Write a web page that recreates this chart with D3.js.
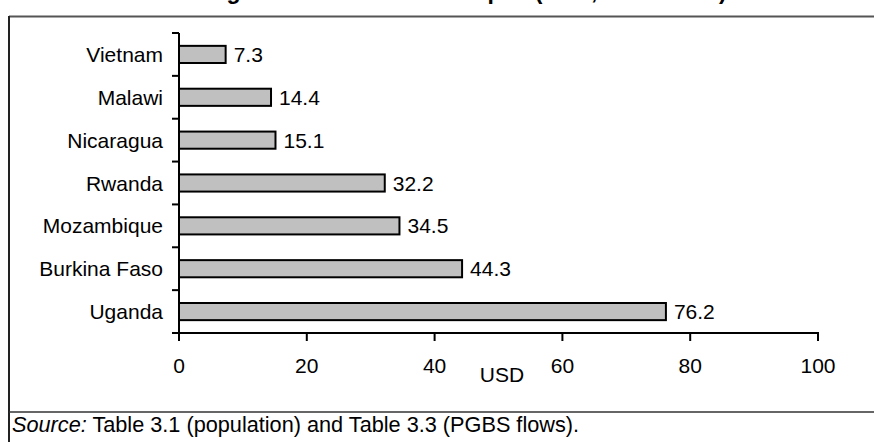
<!DOCTYPE html>
<html><head><meta charset="utf-8">
<script src="https://cdn.jsdelivr.net/npm/d3@7"></script>
<style>body{margin:0;background:#fff;}svg{display:block;font-family:"Liberation Sans",Arial,sans-serif;}</style>
</head><body>
<svg id="c" width="874" height="442"></svg>
<script>
const countries = ["Vietnam","Malawi","Nicaragua","Rwanda","Mozambique","Burkina Faso","Uganda"];
const values = [7.3,14.4,15.1,32.2,34.5,44.3,76.2];
const xTicks = [0,20,40,60,80,100];
const titleText = "Average Annual PGBS Per Capita (USD, 2000–2004)";
const axisTitle = "USD";

const svg = d3.select("#c");
// frame
svg.append("line").attr("x1",9).attr("x2",874).attr("y1",16.5).attr("y2",16.5).attr("stroke","#555").attr("stroke-width",2);
svg.append("line").attr("x1",9).attr("x2",9).attr("y1",16).attr("y2",442).attr("stroke","#222").attr("stroke-width",2);
svg.append("line").attr("x1",9).attr("x2",874).attr("y1",412).attr("y2",412).attr("stroke","#333").attr("stroke-width",1.5);

svg.append("text").attr("x",445).attr("y",-1.5).attr("text-anchor","middle")
  .attr("font-size",23).attr("font-weight","bold").text(titleText);

const FS = 21;
const x = d3.scaleLinear().domain([0,100]).range([179,818]);
const y = d3.scaleBand().domain(countries).range([33,333]).paddingInner(0.6).paddingOuter(0.3);

// bars
svg.selectAll("rect.bar").data(countries).join("rect")
  .attr("x",x(0)).attr("y",d=>y(d)).attr("width",(d,i)=>x(values[i])-x(0)).attr("height",y.bandwidth())
  .attr("fill","#c0c0c0").attr("stroke","#000").attr("stroke-width",2);

// value labels
svg.selectAll("text.val").data(countries).join("text")
  .attr("x",(d,i)=>x(values[i])+8).attr("y",d=>y(d)+y.bandwidth()/2).attr("dy","0.36em")
  .attr("font-size",FS).text((d,i)=>values[i].toFixed(1));

// y axis
const band = (333-33)/countries.length;
const yTickPos = d3.range(countries.length+1).map(i=>33+i*band);
svg.append("line").attr("x1",x(0)).attr("x2",x(0)).attr("y1",33).attr("y2",334).attr("stroke","#000").attr("stroke-width",2);
svg.selectAll("line.yt").data(yTickPos).join("line")
  .attr("x1",x(0)-7).attr("x2",x(0)).attr("y1",d=>d).attr("y2",d=>d).attr("stroke","#000").attr("stroke-width",2);
svg.selectAll("text.cat").data(countries).join("text")
  .attr("x",163).attr("y",d=>y(d)+y.bandwidth()/2).attr("dy","0.36em").attr("text-anchor","end")
  .attr("font-size",FS).text(d=>d);

// x axis
svg.append("line").attr("x1",x(0)-7).attr("x2",x(100)+1).attr("y1",333).attr("y2",333).attr("stroke","#000").attr("stroke-width",2);
svg.selectAll("line.xt").data(xTicks).join("line")
  .attr("x1",d=>x(d)).attr("x2",d=>x(d)).attr("y1",333).attr("y2",341).attr("stroke","#000").attr("stroke-width",2);
svg.selectAll("text.xl").data(xTicks).join("text")
  .attr("x",d=>x(d)).attr("y",373).attr("text-anchor","middle").attr("font-size",FS).text(d=>d);
svg.append("text").attr("x",502).attr("y",382).attr("text-anchor","middle").attr("font-size",FS).text(axisTitle);

// source
const s = svg.append("text").attr("x",12).attr("y",432).attr("font-size",21.7);
s.append("tspan").attr("font-style","italic").text("Source:");
s.append("tspan").text(" Table 3.1 (population) and Table 3.3 (PGBS flows).");
</script>
</body></html>
